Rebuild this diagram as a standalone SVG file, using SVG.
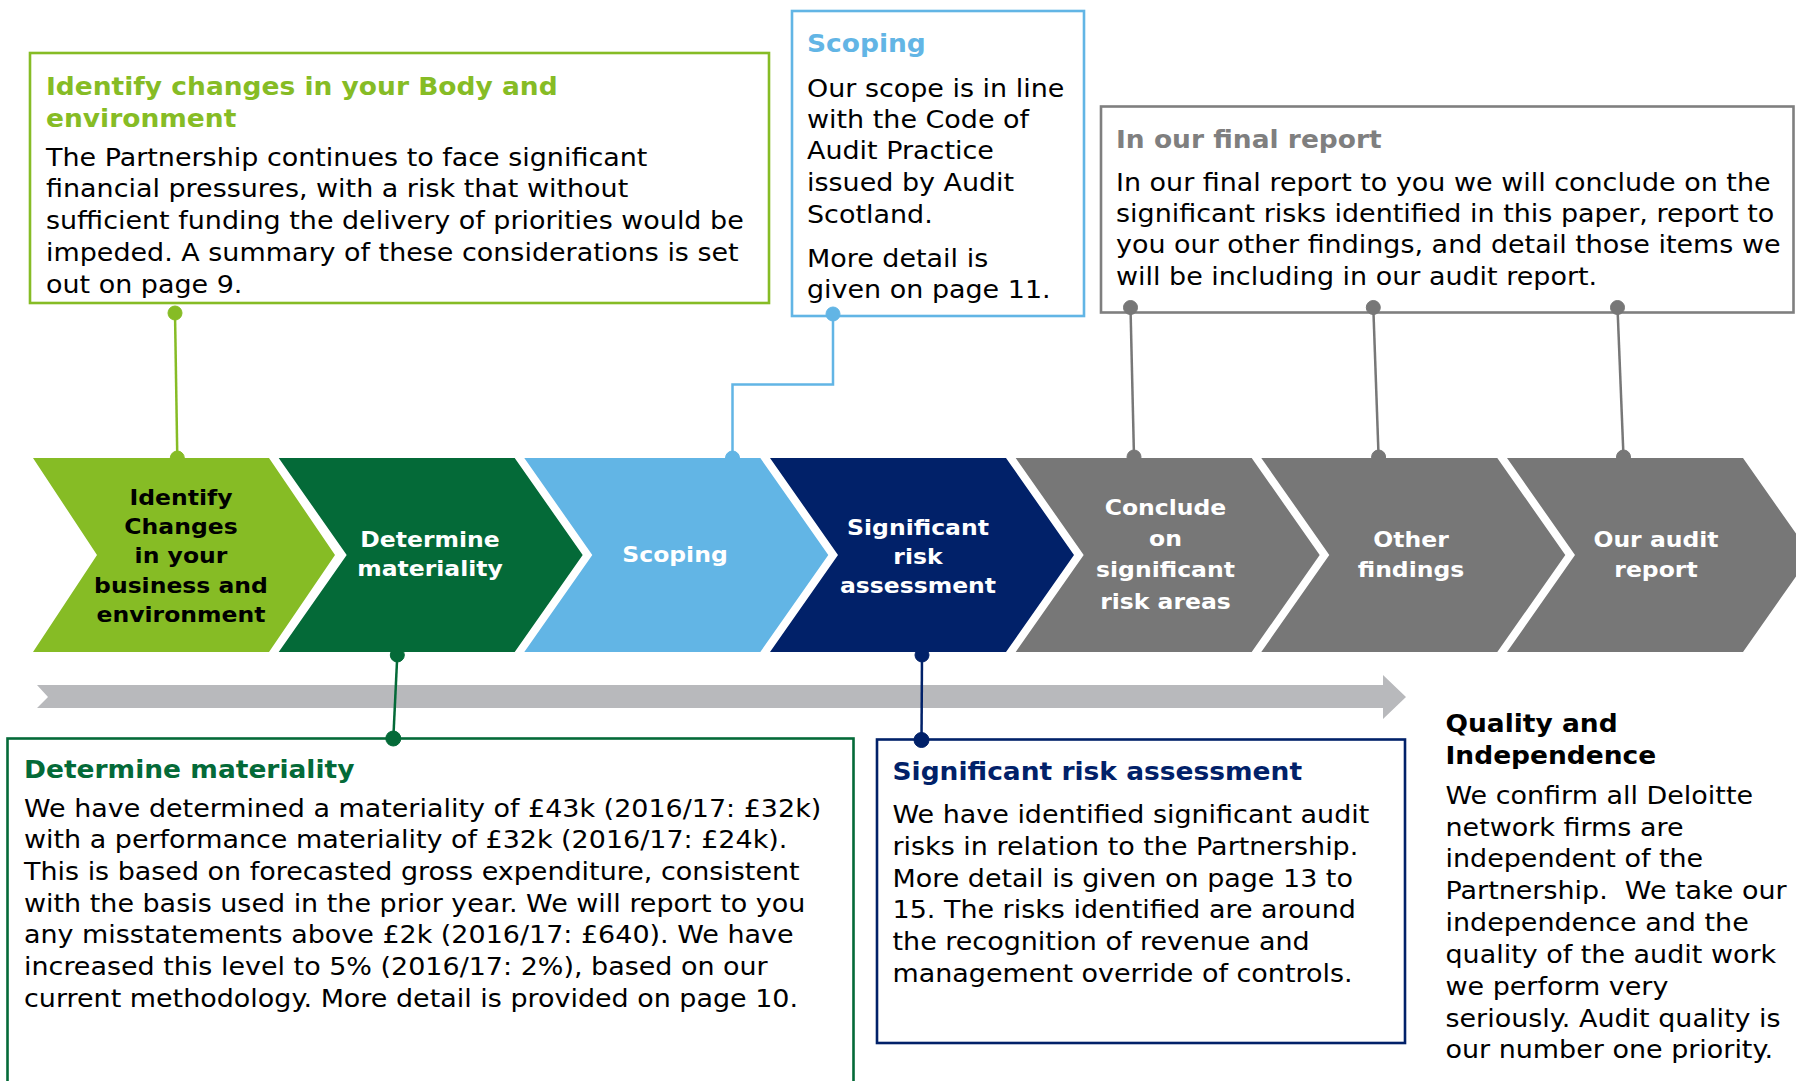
<svg xmlns="http://www.w3.org/2000/svg" width="1796" height="1081" viewBox="0 0 1796 1081">
<style>
.t{font-family:"DejaVu Sans",Verdana,sans-serif;font-size:24.5px;fill:#000}
.h{font-family:"DejaVu Sans",Verdana,sans-serif;font-size:24.3px;font-weight:bold}
.c{font-family:"DejaVu Sans",Verdana,sans-serif;font-size:21px;font-weight:bold;text-anchor:middle;fill:#fff}
.k{fill:#000}
.box{fill:#fff;stroke-width:2.6}
.ln{fill:none;stroke-width:2.5}
</style>
<rect width="1796" height="1081" fill="#fff"/>

<g id="box-identify">
<rect class="box" x="30" y="53" width="739" height="250" stroke="#86bc25"/>
<g transform="translate(46 0) scale(1.09 1)">
<text class="h" x="0" y="95" fill="#86bc25">Identify changes in your Body and</text>
<text class="h" x="0" y="126.7" fill="#86bc25">environment</text>
</g>
<g transform="translate(46 0) scale(1.1 1)">
<text class="t" x="0" y="165.7">The Partnership continues to face significant</text>
<text class="t" x="0" y="197.3">financial pressures, with a risk that without</text>
<text class="t" x="0" y="229.3">sufficient funding the delivery of priorities would be</text>
<text class="t" x="0" y="261">impeded. A summary of these considerations is set</text>
<text class="t" x="0" y="293.3">out on page 9.</text>
</g>
</g>

<g id="box-scoping">
<rect class="box" x="792" y="11" width="292" height="305" stroke="#62b5e5"/>
<g transform="translate(807 0) scale(1.09 1)">
<text class="h" x="0" y="52.3" fill="#62b5e5">Scoping</text>
</g>
<g transform="translate(807 0) scale(1.1 1)">
<text class="t" x="0" y="96.7">Our scope is in line</text>
<text class="t" x="0" y="127.7">with the Code of</text>
<text class="t" x="0" y="159.3">Audit Practice</text>
<text class="t" x="0" y="191">issued by Audit</text>
<text class="t" x="0" y="222.7">Scotland.</text>
<text class="t" x="0" y="266.7">More detail is</text>
<text class="t" x="0" y="297.7">given on page 11.</text>
</g>
</g>

<g id="box-final-report">
<rect class="box" x="1101" y="106.5" width="692.5" height="206" stroke="#7f7f7f"/>
<g transform="translate(1116 0) scale(1.09 1)">
<text class="h" x="0" y="147.7" fill="#7f7f7f">In our final report</text>
</g>
<g transform="translate(1116 0) scale(1.1 1)">
<text class="t" x="0" y="190.7">In our final report to you we will conclude on the</text>
<text class="t" x="0" y="221.7">significant risks identified in this paper, report to</text>
<text class="t" x="0" y="253.3">you our other findings, and detail those items we</text>
<text class="t" x="0" y="285">will be including in our audit report.</text>
</g>
</g>

<g id="box-materiality">
<rect class="box" x="7.5" y="738.5" width="846" height="360" stroke="#046a38"/>
<g transform="translate(24 0) scale(1.09 1)">
<text class="h" x="0" y="778.3" fill="#046a38">Determine materiality</text>
</g>
<g transform="translate(24 0) scale(1.1 1)">
<text class="t" x="0" y="816.7">We have determined a materiality of £43k (2016/17: £32k)</text>
<text class="t" x="0" y="848.3">with a performance materiality of £32k (2016/17: £24k).</text>
<text class="t" x="0" y="880">This is based on forecasted gross expenditure, consistent</text>
<text class="t" x="0" y="911.7">with the basis used in the prior year. We will report to you</text>
<text class="t" x="0" y="943.3">any misstatements above £2k (2016/17: £640). We have</text>
<text class="t" x="0" y="975">increased this level to 5% (2016/17: 2%), based on our</text>
<text class="t" x="0" y="1006.7">current methodology. More detail is provided on page 10.</text>
</g>
</g>

<g id="box-significant-risk">
<rect class="box" x="877" y="739.5" width="528" height="303.5" stroke="#012169"/>
<g transform="translate(892.5 0) scale(1.09 1)">
<text class="h" x="0" y="780" fill="#012169">Significant risk assessment</text>
</g>
<g transform="translate(892.5 0) scale(1.1 1)">
<text class="t" x="0" y="823.3">We have identified significant audit</text>
<text class="t" x="0" y="855">risks in relation to the Partnership.</text>
<text class="t" x="0" y="886.7">More detail is given on page 13 to</text>
<text class="t" x="0" y="918.3">15. The risks identified are around</text>
<text class="t" x="0" y="950">the recognition of revenue and</text>
<text class="t" x="0" y="981.7">management override of controls.</text>
</g>
</g>

<g id="quality-independence">
<g transform="translate(1445.5 0) scale(1.09 1)">
<text class="h" x="0" y="732.3" fill="#000">Quality and</text>
<text class="h" x="0" y="764" fill="#000">Independence</text>
</g>
<g transform="translate(1445.5 0) scale(1.1 1)">
<text class="t" x="0" y="804">We confirm all Deloitte</text>
<text class="t" x="0" y="835.7">network firms are</text>
<text class="t" x="0" y="867.3">independent of the</text>
<text class="t" x="0" y="899">Partnership.&#160; We take our</text>
<text class="t" x="0" y="930.7">independence and the</text>
<text class="t" x="0" y="963.3">quality of the audit work</text>
<text class="t" x="0" y="995">we perform very</text>
<text class="t" x="0" y="1026.7">seriously. Audit quality is</text>
<text class="t" x="0" y="1058.3">our number one priority.</text>
</g>
</g>

<g id="timeline-arrow">
<polygon points="37,685 1383,685 1383,675 1406,697 1383,719 1383,708 37,708 48,697" fill="#b8b9bc"/>
</g>

<g id="connectors">
<g stroke="#86bc25" fill="#86bc25">
<line class="ln" x1="175" y1="313" x2="177.3" y2="458"/>
<circle cx="175" cy="313" r="7"/>
<circle cx="177.3" cy="458" r="7"/>
</g>
<g stroke="#62b5e5" fill="#62b5e5">
<polyline class="ln" points="833,314 833,384.5 732.5,384.5 732.5,458"/>
<circle cx="833" cy="314" r="7"/>
<circle cx="732.5" cy="458" r="7"/>
</g>
<g stroke="#777" fill="#777">
<line class="ln" x1="1130.5" y1="307.5" x2="1134" y2="457"/>
<line class="ln" x1="1373.3" y1="307.5" x2="1378.6" y2="457"/>
<line class="ln" x1="1617.5" y1="307.5" x2="1623.5" y2="457"/>
<circle cx="1130.5" cy="307.5" r="7"/>
<circle cx="1373.3" cy="307.5" r="7"/>
<circle cx="1617.5" cy="307.5" r="7"/>
<circle cx="1134" cy="457" r="7"/>
<circle cx="1378.6" cy="457" r="7"/>
<circle cx="1623.5" cy="457" r="7"/>
</g>
<g stroke="#046a38" fill="#046a38">
<line class="ln" x1="397.3" y1="655" x2="393.3" y2="738.5"/>
<circle cx="397.3" cy="655" r="7"/>
<circle cx="393.3" cy="738.5" r="7.5"/>
</g>
<g stroke="#012169" fill="#012169">
<line class="ln" x1="922" y1="655" x2="921.5" y2="740"/>
<circle cx="922" cy="655" r="7"/>
<circle cx="921.5" cy="740" r="7.5"/>
</g>
</g>

<g id="step-identify">
<polygon points="33,458 269,458 335,555 269,652 33,652 97,555" fill="#86bc25"/>
<g transform="translate(181 0) scale(1.12 1)">
<text class="c k" x="0" y="505">Identify</text>
<text class="c k" x="0" y="534.2">Changes</text>
<text class="c k" x="0" y="563.4">in your</text>
<text class="c k" x="0" y="592.6">business and</text>
<text class="c k" x="0" y="621.8">environment</text>
</g>
</g>

<g id="step-materiality">
<polygon points="278.7,458 514.7,458 582.7,555 514.7,652 278.7,652 346.7,555" fill="#046a38"/>
<g transform="translate(430 0) scale(1.12 1)">
<text class="c" x="0" y="547.3">Determine</text>
<text class="c" x="0" y="576.5">materiality</text>
</g>
</g>

<g id="step-scoping">
<polygon points="524.3,458 760.3,458 828.3,555 760.3,652 524.3,652 592.3,555" fill="#62b5e5"/>
<g transform="translate(675 0) scale(1.12 1)">
<text class="c" x="0" y="562">Scoping</text>
</g>
</g>

<g id="step-significant-risk">
<polygon points="770,458 1006,458 1074,555 1006,652 770,652 838,555" fill="#012169"/>
<g transform="translate(918 0) scale(1.12 1)">
<text class="c" x="0" y="535.5">Significant</text>
<text class="c" x="0" y="564.5">risk</text>
<text class="c" x="0" y="593.5">assessment</text>
</g>
</g>

<g id="step-conclude">
<polygon points="1015.7,458 1251.7,458 1319.7,555 1251.7,652 1015.7,652 1083.7,555" fill="#777"/>
<g transform="translate(1165.5 0) scale(1.12 1)">
<text class="c" x="0" y="515">Conclude</text>
<text class="c" x="0" y="546.5">on</text>
<text class="c" x="0" y="577.3">significant</text>
<text class="c" x="0" y="609">risk areas</text>
</g>
</g>

<g id="step-other-findings">
<polygon points="1261.3,458 1497.3,458 1565.3,555 1497.3,652 1261.3,652 1329.3,555" fill="#777"/>
<g transform="translate(1411 0) scale(1.12 1)">
<text class="c" x="0" y="546.7">Other</text>
<text class="c" x="0" y="577.3">findings</text>
</g>
</g>

<g id="step-audit-report">
<polygon points="1507,458 1743,458 1811,555 1743,652 1507,652 1575,555" fill="#777"/>
<g transform="translate(1656 0) scale(1.12 1)">
<text class="c" x="0" y="546.7">Our audit</text>
<text class="c" x="0" y="577.3">report</text>
</g>
</g>
</svg>
